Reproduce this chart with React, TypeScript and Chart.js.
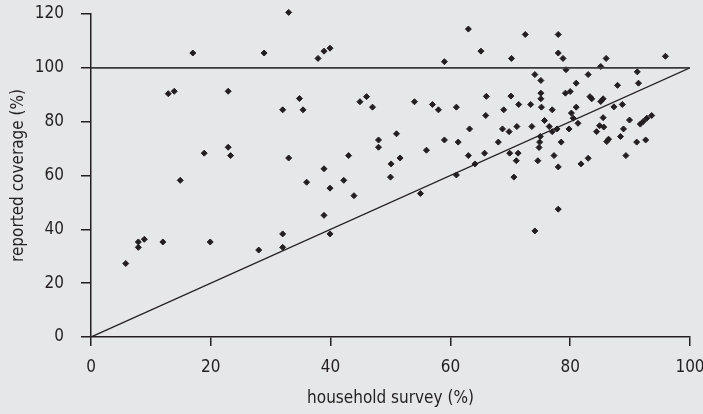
import React, { useEffect, useRef } from "react";
import { Chart, registerables } from "chart.js";

Chart.register(...registerables);

// Household survey coverage (%) for each country/point
const householdSurvey: number[] = [
  5.8, 7.9, 7.9, 8.9, 12.0, 12.9, 13.9, 14.9, 17.0, 18.9,
  19.9, 22.9, 22.9, 23.3, 28.0, 28.9, 32.0, 32.0, 32.0, 33.0,
  33.0, 34.8, 35.4, 36.0, 37.9, 38.9, 39.9, 38.9, 38.9, 39.9,
  39.9, 42.2, 43.0, 43.9, 44.9, 46.0, 47.0, 48.0, 48.0, 50.1,
  50.0, 51.0, 51.6, 54.0, 55.0, 56.0, 57.0, 58.0, 59.0, 59.0,
  61.0, 61.0, 61.3, 63.0, 63.0, 63.2, 64.1, 65.1, 65.7, 66.0,
  65.9, 68.0, 68.7, 68.9, 69.8, 69.9, 70.1, 70.2, 70.6, 71.0,
  71.1, 71.3, 71.4, 72.5, 73.4, 73.6, 74.1, 74.1, 74.6, 74.8,
  74.9, 75.0, 75.1, 75.1, 75.1, 75.2, 75.7, 76.5, 77.0, 77.0,
  77.3, 77.8, 78.0, 78.0, 78.0, 78.0, 78.5, 78.8, 79.3, 79.2,
  80.0, 79.8, 80.2, 80.5, 81.0, 81.0, 81.3, 81.8, 83.0, 83.0,
  83.3, 83.6, 84.4, 84.9, 85.6, 85.1, 85.1, 85.5, 85.5, 86.0,
  86.1, 86.4, 87.3, 87.9, 88.4, 88.7, 88.9, 89.3, 89.9, 91.1,
  91.2, 91.4, 91.7, 92.2, 92.8, 92.6, 93.6, 95.9,
];

// Reported coverage (%) for the same points
const reportedCoverage: number[] = [
  27.3, 35.3, 33.3, 36.3, 35.3, 90.4, 91.3, 58.2, 105.5, 68.3,
  35.3, 91.3, 70.5, 67.4, 32.3, 105.5, 84.4, 38.3, 33.3, 120.6,
  66.5, 88.6, 84.4, 57.5, 103.5, 106.2, 107.3, 62.5, 45.2, 55.3,
  38.3, 58.2, 67.4, 52.5, 87.4, 89.3, 85.4, 73.2, 70.5, 64.3,
  59.4, 75.5, 66.5, 87.4, 53.3, 69.4, 86.4, 84.4, 102.3, 73.2,
  85.4, 60.2, 72.4, 114.4, 67.4, 77.3, 64.3, 106.2, 68.3, 89.4,
  82.3, 72.4, 77.3, 84.4, 76.3, 68.3, 89.5, 103.5, 59.4, 65.5,
  78.2, 68.3, 86.4, 112.4, 86.4, 78.2, 97.5, 39.4, 65.5, 70.4,
  72.4, 74.5, 95.3, 90.6, 88.5, 85.4, 80.4, 78.2, 76.3, 84.4,
  67.4, 77.3, 112.4, 105.5, 63.2, 47.5, 72.4, 103.5, 99.3, 90.6,
  91.2, 77.3, 83.2, 81.3, 94.3, 85.4, 79.4, 64.3, 97.5, 66.4,
  89.3, 88.5, 76.3, 78.5, 78.0, 100.5, 87.5, 88.5, 81.5, 103.5,
  72.6, 73.5, 85.5, 93.5, 74.5, 86.4, 77.3, 67.4, 80.6, 72.4,
  98.5, 94.3, 79.1, 80.1, 81.3, 73.2, 82.3, 104.3,
];

// Reference lines: equality line and the 100% ceiling
const referenceX: number[] = [0, 100];
const equalityY: number[] = [0, 100];
const ceilingY: number[] = [100, 100];

const xAxisTitle = "household survey (%)";
const yAxisTitle = "reported coverage (%)";

const INK = "#231f20";
const BG = "#e6e7e8";
const FONT = "'Liberation Sans Narrow', 'DejaVu Sans Condensed', 'Arial Narrow', sans-serif";

export default function App() {
  const canvasRef = useRef<HTMLCanvasElement | null>(null);

  useEffect(() => {
    document.body.style.margin = "0";
    document.body.style.background = BG;
    const canvas = canvasRef.current;
    if (!canvas) return;

    const points = householdSurvey.map((x, i) => ({ x, y: reportedCoverage[i] }));
    const equality = referenceX.map((x, i) => ({ x, y: equalityY[i] }));
    const ceiling = referenceX.map((x, i) => ({ x, y: ceilingY[i] }));

    const chart = new Chart(canvas, {
      type: "scatter",
      data: {
        datasets: [
          {
            type: "line",
            data: ceiling,
            borderColor: "#3a3a3a",
            borderWidth: 1.6,
            pointRadius: 0,
            showLine: true,
          },
          {
            type: "line",
            data: equality,
            borderColor: INK,
            borderWidth: 1.3,
            pointRadius: 0,
            showLine: true,
          },
          {
            data: points,
            pointStyle: "rectRot",
            pointRadius: 3,
            borderWidth: 1,
            backgroundColor: INK,
            borderColor: INK,
            clip: false,
          },
        ],
      } as any,
      options: {
        responsive: false,
        animation: false,
        layout: { padding: 0 },
        plugins: {
          legend: { display: false },
          tooltip: { enabled: false },
        },
        scales: {
          x: {
            type: "linear",
            min: 0,
            max: 100,
            afterFit: (s: any) => {
              s.height = 77;
              s.paddingLeft = 0;
              s.paddingRight = 13;
            },
            ticks: {
              stepSize: 20,
              padding: 11,
              color: INK,
              font: { family: FONT, size: 17 },
            },
            grid: {
              drawOnChartArea: false,
              drawTicks: true,
              tickLength: 9,
              color: INK,
              lineWidth: 1.5,
            },
            border: { display: true, color: INK, width: 1.5 },
            title: {
              display: true,
              text: xAxisTitle,
              color: INK,
              font: { family: FONT, size: 17 },
              padding: { top: 0, bottom: 5 },
            },
          },
          y: {
            type: "linear",
            min: 0,
            max: 120,
            afterFit: (s: any) => {
              s.width = 91;
              s.paddingTop = 14;
              s.paddingBottom = 0;
            },
            ticks: {
              stepSize: 20,
              padding: 17,
              color: INK,
              font: { family: FONT, size: 17 },
            },
            grid: {
              drawOnChartArea: false,
              drawTicks: true,
              tickLength: 10,
              color: INK,
              lineWidth: 1.5,
            },
            border: { display: true, color: INK, width: 1.5 },
            title: {
              display: true,
              text: yAxisTitle,
              color: INK,
              font: { family: FONT, size: 17 },
              padding: { top: 8, bottom: 0 },
            },
          },
        },
      } as any,
    });

    return () => chart.destroy();
  }, []);

  return (
    <div style={{ width: 703, height: 414, background: BG }}>
      <canvas ref={canvasRef} width={703} height={414} style={{ display: "block" }} />
    </div>
  );
}
